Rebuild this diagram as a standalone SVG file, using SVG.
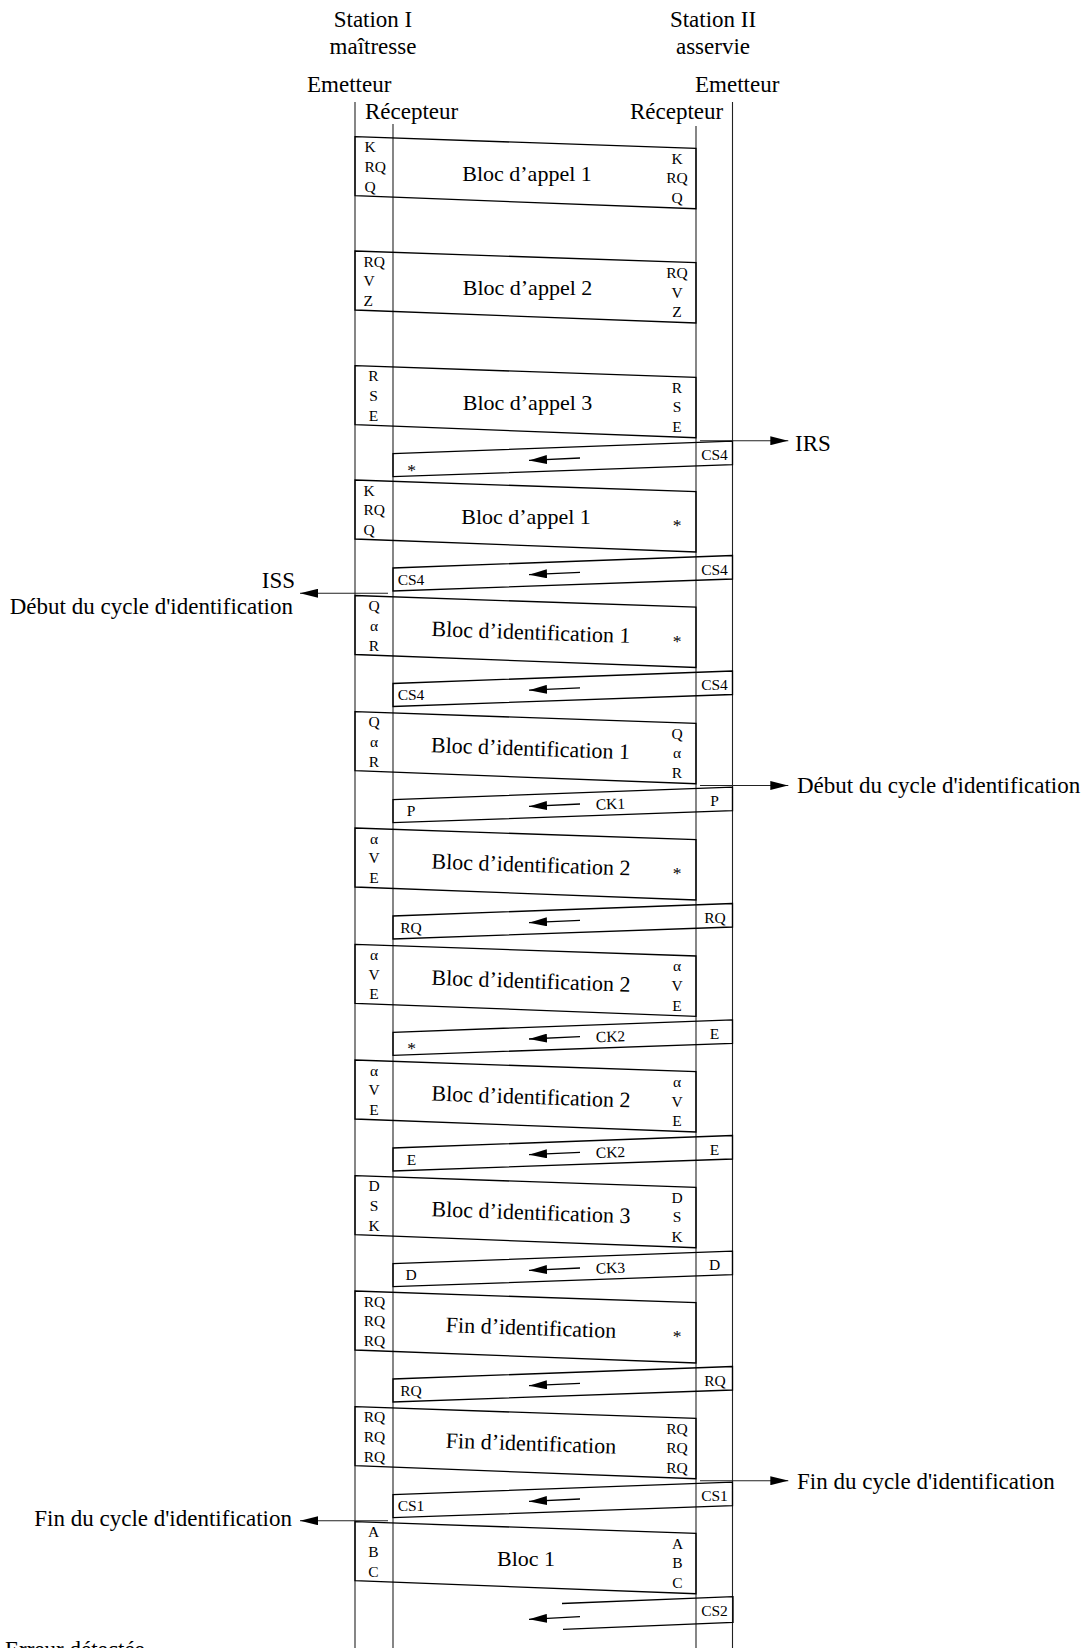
<svg xmlns="http://www.w3.org/2000/svg" width="1087" height="1648" viewBox="0 0 1087 1648">
<style>
text{font-family:"Liberation Serif","Times New Roman",serif;fill:#000}
.h{font-size:23px}
.b{font-size:22px;text-anchor:middle}
.s{font-size:15.5px}
.st{font-size:17.5px;text-anchor:middle}
.c{text-anchor:middle}
.e{text-anchor:end}
.blk{fill:none;stroke:#000;stroke-width:1.3;stroke-linejoin:miter}
.vl{stroke:#222;stroke-width:1.1;fill:none}
.ar{stroke:#000;stroke-width:1.3;fill:none;marker-end:url(#ah)}
.sa{stroke:#222;stroke-width:1.1;fill:none;marker-end:url(#ah)}
</style>
<defs>
<marker id="ah" markerUnits="userSpaceOnUse" markerWidth="18" markerHeight="9" refX="18" refY="4.5" orient="auto" viewBox="0 0 18 9"><path d="M0,0 L18,4.5 L0,9 z" fill="#000"/></marker>
</defs>
<rect width="1087" height="1648" fill="#fff"/>

<g id="headers">
<text class="h c" x="373" y="27">Station I</text>
<text class="h c" x="373" y="54">maîtresse</text>
<text class="h c" x="713" y="27">Station II</text>
<text class="h c" x="713" y="54">asservie</text>
<text class="h" x="307" y="92">Emetteur</text>
<text class="h" x="365" y="119">Récepteur</text>
<text class="h" x="630" y="119">Récepteur</text>
<text class="h" x="695" y="92">Emetteur</text>
</g>

<g id="lifelines">
<line class="vl" x1="355" y1="102" x2="355" y2="1648"/>
<line class="vl" x1="393" y1="124" x2="393" y2="1648"/>
<line class="vl" x1="696" y1="126" x2="696" y2="1648"/>
<line class="vl" x1="732.5" y1="102" x2="732.5" y2="1648"/>
</g>

<g id="F1">
<polygon class="blk" points="355,136.7 696,148.4 696,208.7 355,195.7"/>
<text class="b" x="527" y="181">Bloc d’appel 1</text>
<text class="s" x="364.5" y="152.4">K</text><text class="s" x="364.5" y="172">RQ</text><text class="s" x="364.5" y="191.7">Q</text>
<text class="s c" x="677" y="163.7">K</text><text class="s c" x="677" y="183.4">RQ</text><text class="s c" x="677" y="203">Q</text>
</g>
<g id="F2">
<polygon class="blk" points="355,251 696,262.7 696,323 355,310"/>
<text class="b" x="527.5" y="295">Bloc d’appel 2</text>
<text class="s" x="363.5" y="266.7">RQ</text><text class="s" x="363.5" y="286.3">V</text><text class="s" x="363.5" y="306">Z</text>
<text class="s c" x="677" y="278">RQ</text><text class="s c" x="677" y="297.7">V</text><text class="s c" x="677" y="317.3">Z</text>
</g>
<g id="F3">
<polygon class="blk" points="355,365.7 696,377.4 696,437.7 355,424.7"/>
<text class="b" x="527.5" y="409.7">Bloc d’appel 3</text>
<text class="s c" x="373.5" y="381.4">R</text><text class="s c" x="373.5" y="401">S</text><text class="s c" x="373.5" y="420.7">E</text>
<text class="s c" x="677" y="392.7">R</text><text class="s c" x="677" y="412.4">S</text><text class="s c" x="677" y="432">E</text>
</g>
<g id="R3">
<polygon class="blk" points="732.5,441.2 393,453.7 393,476.7 732.5,464.7"/>
<line class="ar" x1="580" y1="458" x2="529" y2="460.4"/>
<text class="s c" x="714.5" y="460.2">CS4</text>
<text class="st" x="411.5" y="475.5">*</text>
</g>
<g id="F4">
<polygon class="blk" points="355,480 696,491.7 696,552 355,539"/>
<text class="b" x="526" y="524">Bloc d’appel 1</text>
<text class="s" x="363.5" y="495.7">K</text><text class="s" x="363.5" y="515.3">RQ</text><text class="s" x="363.5" y="535">Q</text>
<text class="st" x="677" y="531">*</text>
</g>
<g id="R4">
<polygon class="blk" points="732.5,555.5 393,568 393,591 732.5,579"/>
<line class="ar" x1="580" y1="572.3" x2="529" y2="574.7"/>
<text class="s c" x="714.5" y="574.5">CS4</text>
<text class="s c" x="411" y="584.5">CS4</text>
</g>
<g id="F5">
<polygon class="blk" points="355,595.5 696,607.2 696,667.5 355,654.5"/>
<text class="b" x="531" y="639.5" transform="rotate(2 531 633)">Bloc d’identification 1</text>
<text class="s c" x="374" y="611.2">Q</text><text class="s c" x="374" y="630.8">α</text><text class="s c" x="374" y="650.5">R</text>
<text class="st" x="677" y="646.5">*</text>
</g>
<g id="R5">
<polygon class="blk" points="732.5,671 393,683.5 393,706.5 732.5,694.5"/>
<line class="ar" x1="580" y1="687.8" x2="529" y2="690.2"/>
<text class="s c" x="714.5" y="690">CS4</text>
<text class="s c" x="411" y="700">CS4</text>
</g>
<g id="F6">
<polygon class="blk" points="355,711.7 696,723.4 696,783.7 355,770.7"/>
<text class="b" x="530.5" y="755.7" transform="rotate(2 530.5 749)">Bloc d’identification 1</text>
<text class="s c" x="374" y="727.4">Q</text><text class="s c" x="374" y="747">α</text><text class="s c" x="374" y="766.7">R</text>
<text class="s c" x="677" y="738.7">Q</text><text class="s c" x="677" y="758.4">α</text><text class="s c" x="677" y="778">R</text>
</g>
<g id="R6">
<polygon class="blk" points="732.5,787.2 393,799.7 393,822.7 732.5,810.7"/>
<line class="ar" x1="580" y1="804" x2="529" y2="806.4"/>
<text class="s c" x="714.5" y="806.2">P</text>
<text class="s c" x="411" y="816.2">P</text>
<text class="s c" x="610.5" y="809.2" transform="rotate(-2 610.5 804)">CK1</text>
</g>
<g id="F7">
<polygon class="blk" points="355,828 696,839.7 696,900 355,887"/>
<text class="b" x="531" y="872" transform="rotate(2 531 865)">Bloc d’identification 2</text>
<text class="s c" x="374" y="843.7">α</text><text class="s c" x="374" y="863.3">V</text><text class="s c" x="374" y="883">E</text>
<text class="st" x="677" y="879">*</text>
</g>
<g id="R7">
<polygon class="blk" points="732.5,903.5 393,916 393,939 732.5,927"/>
<line class="ar" x1="580" y1="920.3" x2="529" y2="922.7"/>
<text class="s c" x="715" y="922.5">RQ</text>
<text class="s c" x="411" y="932.5">RQ</text>
</g>
<g id="F8">
<polygon class="blk" points="355,944.3 696,956 696,1016.3 355,1003.3"/>
<text class="b" x="531" y="988.3" transform="rotate(2 531 981)">Bloc d’identification 2</text>
<text class="s c" x="374" y="960">α</text><text class="s c" x="374" y="979.6">V</text><text class="s c" x="374" y="999.3">E</text>
<text class="s c" x="677" y="971.3">α</text><text class="s c" x="677" y="991">V</text><text class="s c" x="677" y="1010.6">E</text>
</g>
<g id="R8">
<polygon class="blk" points="732.5,1019.8 393,1032.3 393,1055.3 732.5,1043.3"/>
<line class="ar" x1="580" y1="1036.6" x2="529" y2="1039"/>
<text class="s c" x="714.5" y="1038.8">E</text>
<text class="st" x="411.5" y="1054">*</text>
<text class="s c" x="610.5" y="1041.8" transform="rotate(-2 610.5 1036)">CK2</text>
</g>
<g id="F9">
<polygon class="blk" points="355,1060 696,1071.7 696,1132 355,1119"/>
<text class="b" x="531" y="1104" transform="rotate(2 531 1097)">Bloc d’identification 2</text>
<text class="s c" x="374" y="1075.7">α</text><text class="s c" x="374" y="1095.3">V</text><text class="s c" x="374" y="1115">E</text>
<text class="s c" x="677" y="1087">α</text><text class="s c" x="677" y="1106.7">V</text><text class="s c" x="677" y="1126.3">E</text>
</g>
<g id="R9">
<polygon class="blk" points="732.5,1135.5 393,1148 393,1171 732.5,1159"/>
<line class="ar" x1="580" y1="1152.3" x2="529" y2="1154.7"/>
<text class="s c" x="714.5" y="1154.5">E</text>
<text class="s c" x="411.5" y="1164.5">E</text>
<text class="s c" x="610.5" y="1157.5" transform="rotate(-2 610.5 1152)">CK2</text>
</g>
<g id="F10">
<polygon class="blk" points="355,1175.7 696,1187.4 696,1247.7 355,1234.7"/>
<text class="b" x="531" y="1219.7" transform="rotate(2 531 1213)">Bloc d’identification 3</text>
<text class="s c" x="374" y="1191.4">D</text><text class="s c" x="374" y="1211">S</text><text class="s c" x="374" y="1230.7">K</text>
<text class="s c" x="677" y="1202.7">D</text><text class="s c" x="677" y="1222.4">S</text><text class="s c" x="677" y="1242">K</text>
</g>
<g id="R10">
<polygon class="blk" points="732.5,1251.2 393,1263.7 393,1286.7 732.5,1274.7"/>
<line class="ar" x1="580" y1="1268" x2="529" y2="1270.4"/>
<text class="s c" x="714.5" y="1270.2">D</text>
<text class="s c" x="411" y="1280.2">D</text>
<text class="s c" x="610.5" y="1273.2" transform="rotate(-2 610.5 1268)">CK3</text>
</g>
<g id="F11">
<polygon class="blk" points="355,1291 696,1302.7 696,1363 355,1350"/>
<text class="b" x="531" y="1335" transform="rotate(2 531 1328)">Fin d’identification</text>
<text class="s c" x="374.5" y="1306.7">RQ</text><text class="s c" x="374.5" y="1326.3">RQ</text><text class="s c" x="374.5" y="1346">RQ</text>
<text class="st" x="677" y="1342">*</text>
</g>
<g id="R11">
<polygon class="blk" points="732.5,1366.5 393,1379 393,1402 732.5,1390"/>
<line class="ar" x1="580" y1="1383.3" x2="529" y2="1385.7"/>
<text class="s c" x="715" y="1385.5">RQ</text>
<text class="s c" x="411" y="1395.5">RQ</text>
</g>
<g id="F12">
<polygon class="blk" points="355,1406.7 696,1418.4 696,1478.7 355,1465.7"/>
<text class="b" x="531" y="1450.7" transform="rotate(2 531 1444)">Fin d’identification</text>
<text class="s c" x="374.5" y="1422.4">RQ</text><text class="s c" x="374.5" y="1442">RQ</text><text class="s c" x="374.5" y="1461.7">RQ</text>
<text class="s c" x="677" y="1433.7">RQ</text><text class="s c" x="677" y="1453.4">RQ</text><text class="s c" x="677" y="1473">RQ</text>
</g>
<g id="R12">
<polygon class="blk" points="732.5,1482.2 393,1494.7 393,1517.7 732.5,1505.7"/>
<line class="ar" x1="580" y1="1499" x2="529" y2="1501.4"/>
<text class="s c" x="714.5" y="1501.2">CS1</text>
<text class="s c" x="411" y="1511.2">CS1</text>
</g>
<g id="F13">
<polygon class="blk" points="355,1521.7 696,1533.4 696,1593.7 355,1580.7"/>
<text class="b" x="526" y="1565.7">Bloc 1</text>
<text class="s c" x="373.5" y="1537.4">A</text><text class="s c" x="373.5" y="1557">B</text><text class="s c" x="373.5" y="1576.7">C</text>
<text class="s c" x="677.5" y="1548.7">A</text><text class="s c" x="677.5" y="1568.4">B</text><text class="s c" x="677.5" y="1588">C</text>
</g>
<g id="R13">
<polyline class="blk" points="562,1603.5 733,1596.7 733,1622.5 563,1629.3"/>
<line class="ar" x1="580" y1="1616.7" x2="529" y2="1619.3"/>
<text class="s c" x="714.5" y="1615.5">CS2</text>
</g>

<g id="connectors">
<line class="sa" x1="700" y1="440.7" x2="788.3" y2="440.7"/>
<line class="sa" x1="388" y1="593.3" x2="300" y2="593.3"/>
<line class="sa" x1="700" y1="785.5" x2="788.3" y2="785.5"/>
<line class="sa" x1="700" y1="1480.7" x2="788.3" y2="1480.7"/>
<line class="sa" x1="388" y1="1520.7" x2="300" y2="1520.7"/>
</g>

<g id="labels">
<text class="h" x="795" y="450.5">IRS</text>
<text class="h e" x="295" y="588">ISS</text>
<text class="h e" x="293" y="614">Début du cycle d'identification</text>
<text class="h" x="797" y="793">Début du cycle d'identification</text>
<text class="h" x="797" y="1488.5">Fin du cycle d'identification</text>
<text class="h e" x="292" y="1526">Fin du cycle d'identification</text>
<text class="h" x="5" y="1657">Erreur détectée</text>
</g>
</svg>
